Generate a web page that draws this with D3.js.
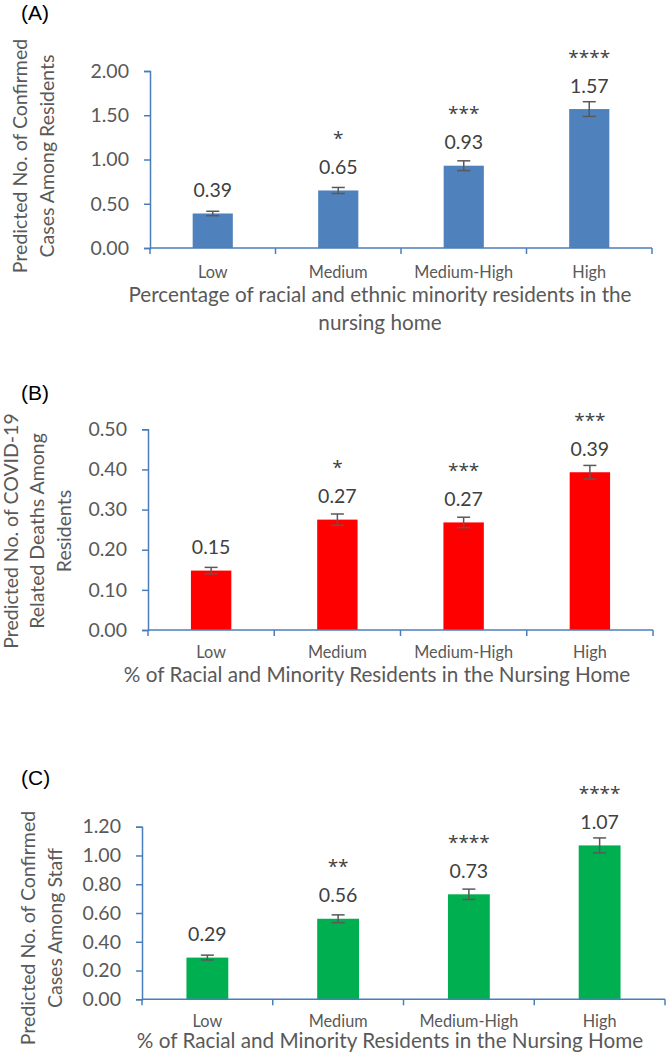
<!DOCTYPE html>
<html>
<head>
<meta charset="utf-8">
<script src="https://cdn.jsdelivr.net/npm/d3@7"></script>
<style>
  html, body { margin: 0; padding: 0; background: #fff; }
  svg { display: block; }
  text { font-family: Lato, "Open Sans", sans-serif; }
</style>
</head>
<body>
<svg id="chart" width="667" height="1052"></svg>
<script>
// ---------- data ----------
const categories = ["Low", "Medium", "Medium-High", "High"];

const panelLabels = ["(A)", "(B)", "(C)"];

const valuesA = [0.39, 0.65, 0.93, 1.57];
const errorsA = [0.025, 0.034, 0.055, 0.083];
const starsA  = ["", "*", "***", "****"];
const ticksA  = [0.00, 0.50, 1.00, 1.50, 2.00];
const yTitleA = ["Predicted No. of Confirmed", "Cases Among Residents"];
const xTitleA = ["Percentage of racial and ethnic minority residents in the", "nursing home"];

const valuesB = [0.148, 0.275, 0.268, 0.393];
const labelsB = ["0.15", "0.27", "0.27", "0.39"];
const errorsB = [0.008, 0.014, 0.013, 0.017];
const starsB  = ["", "*", "***", "***"];
const ticksB  = [0.00, 0.10, 0.20, 0.30, 0.40, 0.50];
const yTitleB = ["Predicted No. of COVID-19", "Related Deaths Among", "Residents"];
const xTitleB = ["% of Racial and Minority Residents in the Nursing Home"];

const valuesC = [0.29, 0.56, 0.73, 1.07];
const errorsC = [0.017, 0.027, 0.036, 0.052];
const starsC  = ["", "**", "****", "****"];
const ticksC  = [0.00, 0.20, 0.40, 0.60, 0.80, 1.00, 1.20];
const yTitleC = ["Predicted No. of Confirmed", "Cases Among Staff"];
const xTitleC = ["% of Racial and Minority Residents in the Nursing Home"];

// ---------- drawing ----------
const svg = d3.select("#chart");
const AXIS = "#4a7ebb";
const TICKTXT = "#595959";
const LBL = "#404040";
const ERR = "#595959";
const FONT = "Lato, 'Open Sans', sans-serif";

function drawPanel(cfg) {
  const g = svg.append("g");
  const y = d3.scaleLinear().domain([0, d3.max(cfg.ticks)]).range([cfg.y0, cfg.yTop]);
  const pad = 0.68;
  const x = d3.scaleBand().domain(categories).range([cfg.xL, cfg.xR])
    .paddingInner(pad).paddingOuter(pad / 2);
  const step = x.step();

  // panel label
  g.append("text").attr("x", 21).attr("y", cfg.labelY)
    .style("font-family", "'Liberation Sans', Arial, sans-serif")
    .attr("font-size", 21).attr("fill", "#000").text(cfg.label);

  // bars
  g.selectAll("rect.bar").data(cfg.values).join("rect")
    .attr("x", (d, i) => x(categories[i]))
    .attr("width", x.bandwidth())
    .attr("y", d => y(d))
    .attr("height", d => cfg.y0 - y(d))
    .attr("fill", cfg.color);

  // y axis
  const yAxis = d3.axisLeft(y).tickValues(cfg.ticks).tickFormat(d3.format(".2f"))
    .tickSize(6).tickPadding(15);
  const ya = g.append("g").attr("transform", `translate(${cfg.xL},0)`).call(yAxis);
  ya.select(".domain").attr("stroke", AXIS).attr("stroke-width", 1.5);
  ya.selectAll(".tick line").attr("stroke", AXIS).attr("stroke-width", 1.5);
  ya.selectAll(".tick text").attr("fill", TICKTXT).attr("font-size", 19.5)
    .style("font-family", FONT);

  // x axis line + boundary ticks
  g.append("line").attr("x1", cfg.xL).attr("x2", cfg.xR).attr("y1", cfg.y0).attr("y2", cfg.y0)
    .attr("stroke", AXIS).attr("stroke-width", 1.5);
  const bounds = d3.range(categories.length + 1).map(i => cfg.xL + i * step);
  g.selectAll("line.bt").data(bounds).join("line")
    .attr("x1", d => d).attr("x2", d => d).attr("y1", cfg.y0).attr("y2", cfg.y0 + 6)
    .attr("stroke", AXIS).attr("stroke-width", 1.5);

  // category labels
  const xAxis = d3.axisBottom(x).tickSize(0).tickPadding(0);
  const xa = g.append("g").attr("transform", `translate(0,${cfg.y0})`).call(xAxis);
  xa.select(".domain").remove();
  xa.selectAll(".tick text").attr("fill", TICKTXT).attr("font-size", 16.3)
    .attr("dy", "0.35em").attr("y", cfg.catY - cfg.y0)
    .style("font-family", FONT);

  // error bars
  const cap = 6.5;
  cfg.values.forEach((v, i) => {
    const cx = x(categories[i]) + x.bandwidth() / 2;
    const e = cfg.errors[i];
    const yt = y(v + e), yb = y(v - e);
    g.append("line").attr("x1", cx).attr("x2", cx).attr("y1", yt).attr("y2", yb)
      .attr("stroke", ERR).attr("stroke-width", 1.5);
    [yt, yb].forEach(yy => g.append("line").attr("x1", cx - cap).attr("x2", cx + cap)
      .attr("y1", yy).attr("y2", yy).attr("stroke", ERR).attr("stroke-width", 1.5));
  });

  // value labels and stars
  g.selectAll("text.val").data(cfg.values).join("text")
    .attr("x", (d, i) => x(categories[i]) + x.bandwidth() / 2)
    .attr("y", d => y(d) - 23.5 + 7)
    .attr("text-anchor", "middle").attr("font-size", 19.5).attr("fill", LBL)
    .text((d, i) => cfg.labels ? cfg.labels[i] : d3.format(".2f")(d));
  g.selectAll("text.star").data(cfg.values).join("text")
    .attr("x", (d, i) => x(categories[i]) + x.bandwidth() / 2)
    .attr("y", d => y(d) - 23.5 - 32 + 10)
    .attr("text-anchor", "middle").attr("font-size", 19).attr("fill", LBL)
    .style("font-family", "'Open Sans', sans-serif")
    .text((d, i) => cfg.stars[i]);

  // y title
  cfg.yTitle.forEach((t, i) => {
    g.append("text")
      .attr("transform", `translate(${cfg.yTitleX[i]},${cfg.yTitleCY}) rotate(-90)`)
      .attr("text-anchor", "middle").attr("dy", "0.35em")
      .attr("font-size", 19.5).attr("fill", TICKTXT).text(t);
  });

  // x title
  cfg.xTitle.forEach((t, i) => {
    g.append("text").attr("x", cfg.xTitleCX).attr("y", cfg.xTitleY[i])
      .attr("dy", "0.35em").attr("text-anchor", "middle")
      .attr("font-size", 20.7).attr("fill", TICKTXT).text(t);
  });
}

drawPanel({
  label: panelLabels[0], labelY: 20, color: "#4f81bd",
  values: valuesA, errors: errorsA, stars: starsA, ticks: ticksA,
  yTitle: yTitleA, xTitle: xTitleA,
  xL: 150, xR: 652, y0: 248, yTop: 71, catY: 272,
  yTitleX: [20, 47], yTitleCY: 156, xTitleCX: 380, xTitleY: [295, 323]
});
drawPanel({
  label: panelLabels[1], labelY: 400, color: "#ff0000",
  values: valuesB, labels: labelsB, errors: errorsB, stars: starsB, ticks: ticksB,
  yTitle: yTitleB, xTitle: xTitleB,
  xL: 148, xR: 653, y0: 630, yTop: 429.3, catY: 652,
  yTitleX: [11, 37, 64], yTitleCY: 531, xTitleCX: 377, xTitleY: [675]
});
drawPanel({
  label: panelLabels[2], labelY: 785, color: "#00b050",
  values: valuesC, errors: errorsC, stars: starsC, ticks: ticksC,
  yTitle: yTitleC, xTitle: xTitleC,
  xL: 142, xR: 665, y0: 999.3, yTop: 826.7, catY: 1021.5,
  yTitleX: [28, 55], yTitleCY: 928, xTitleCX: 390, xTitleY: [1041]
});
</script>
</body>
</html>
